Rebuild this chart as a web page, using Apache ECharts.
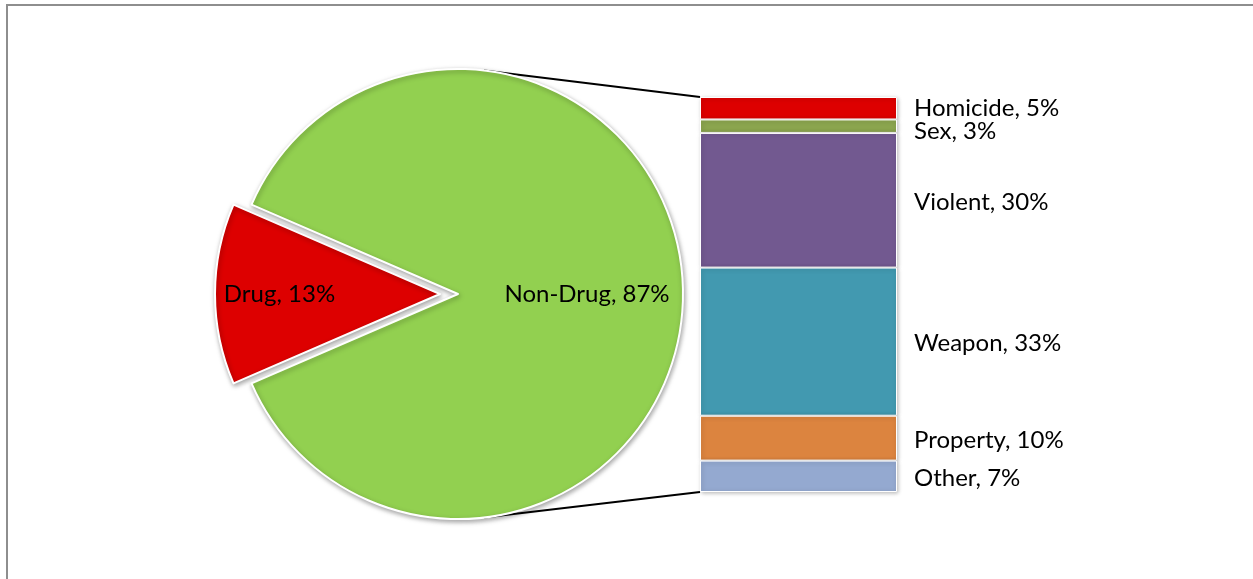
<!DOCTYPE html>
<html><head><meta charset="utf-8">
<script src="https://cdn.jsdelivr.net/npm/echarts@6/dist/echarts.min.js"></script>
<style>
html,body{margin:0;padding:0;background:#fff;}
#frame{position:absolute;left:6px;top:4px;width:1300px;height:700px;border-top:2px solid #8e8e8e;border-left:2px solid #8e8e8e;}
#c{position:absolute;left:0;top:0;width:1253px;height:579px;}
</style></head>
<body>
<div id="frame"></div>
<div id="c"></div>
<script>
// Pie data
const pieNames = ['Drug', 'Non-Drug'];
const pieValues = [13, 87];
const pieColors = ['#dd0000', '#92d050'];
// Bar breakdown of Non-Drug (top to bottom)
const barNames = ['Homicide', 'Sex', 'Violent', 'Weapon', 'Property', 'Other'];
const barValues = [5, 3, 30, 33, 10, 7];
const barColors = ['#dd0000', '#8ba54e', '#725990', '#4299b0', '#dc843f', '#94a9d0'];

const FONT = 'Lato';
const FS = 24;
const cx = 458, cy = 294, R = 225;
const gLeft = 700, gTop = 97, gW = 197, gH = 395;

const total = barValues.reduce((a, b) => a + b, 0);
const dragStart = 180 + pieValues[0] / 100 * 360 / 2;

const chart = echarts.init(document.getElementById('c'), null, {renderer: 'canvas'});

const series = [{
  type: 'pie',
  center: [cx, cy],
  radius: R,
  startAngle: dragStart,
  clockwise: true,
  selectedMode: 'single',
  selectedOffset: 18,
  animation: false,
  itemStyle: {borderColor: '#fff', borderWidth: 2, shadowBlur: 5, shadowColor: 'rgba(0,0,0,0.35)', shadowOffsetX: 1, shadowOffsetY: 2},
  label: {position: 'inside', color: '#000', fontFamily: FONT, fontSize: FS,
    formatter: p => p.name + ', ' + p.value + '%'},
  labelLine: {show: false},
  labelLayout: function (p) {
    if (p.dataIndex === 0) return {dx: -45};
    return {x: 587, y: cy, align: 'center', verticalAlign: 'middle'};
  },
  emphasis: {disabled: true},
  data: pieNames.map((n, i) => ({name: n, value: pieValues[i], selected: i === 0, itemStyle: {color: pieColors[i]}}))
}];

const barDy = [0, 5, 2, 2, 2, 2];
barNames.forEach((n, i) => {
  series.push({
    type: 'bar',
    name: n,
    stack: 's',
    barWidth: '100%',
    animation: false,
    itemStyle: {color: barColors[i], borderColor: '#fff', borderWidth: 1, shadowBlur: 4, shadowColor: 'rgba(0,0,0,0.25)', shadowOffsetX: 1, shadowOffsetY: 1},
    label: {show: true, position: 'right', distance: 17, color: '#000', fontFamily: FONT, fontSize: FS,
      formatter: p => p.seriesName + ', ' + p.value + '%'},
    labelLayout: {dy: barDy[i]},
    emphasis: {disabled: true},
    data: [barValues[i]]
  });
});

const a1 = 83.4 * Math.PI / 180;
const p1 = [cx + R * Math.cos(a1), cy - R * Math.sin(a1)];
const p2 = [cx + R * Math.cos(a1), cy + R * Math.sin(a1)];

chart.setOption({
  animation: false,
  grid: {left: gLeft, top: gTop, width: gW, height: gH},
  xAxis: {type: 'category', data: [''], show: false},
  yAxis: {type: 'value', min: 0, max: total, inverse: true, show: false},
  graphic: [
    {type: 'line', shape: {x1: p1[0], y1: p1[1], x2: gLeft, y2: gTop}, style: {stroke: '#000', lineWidth: 2}, z: 0},
    {type: 'line', shape: {x1: p2[0], y1: p2[1], x2: gLeft, y2: gTop + gH}, style: {stroke: '#000', lineWidth: 2}, z: 0}
  ],
  series: series
});
</script>
</body></html>
